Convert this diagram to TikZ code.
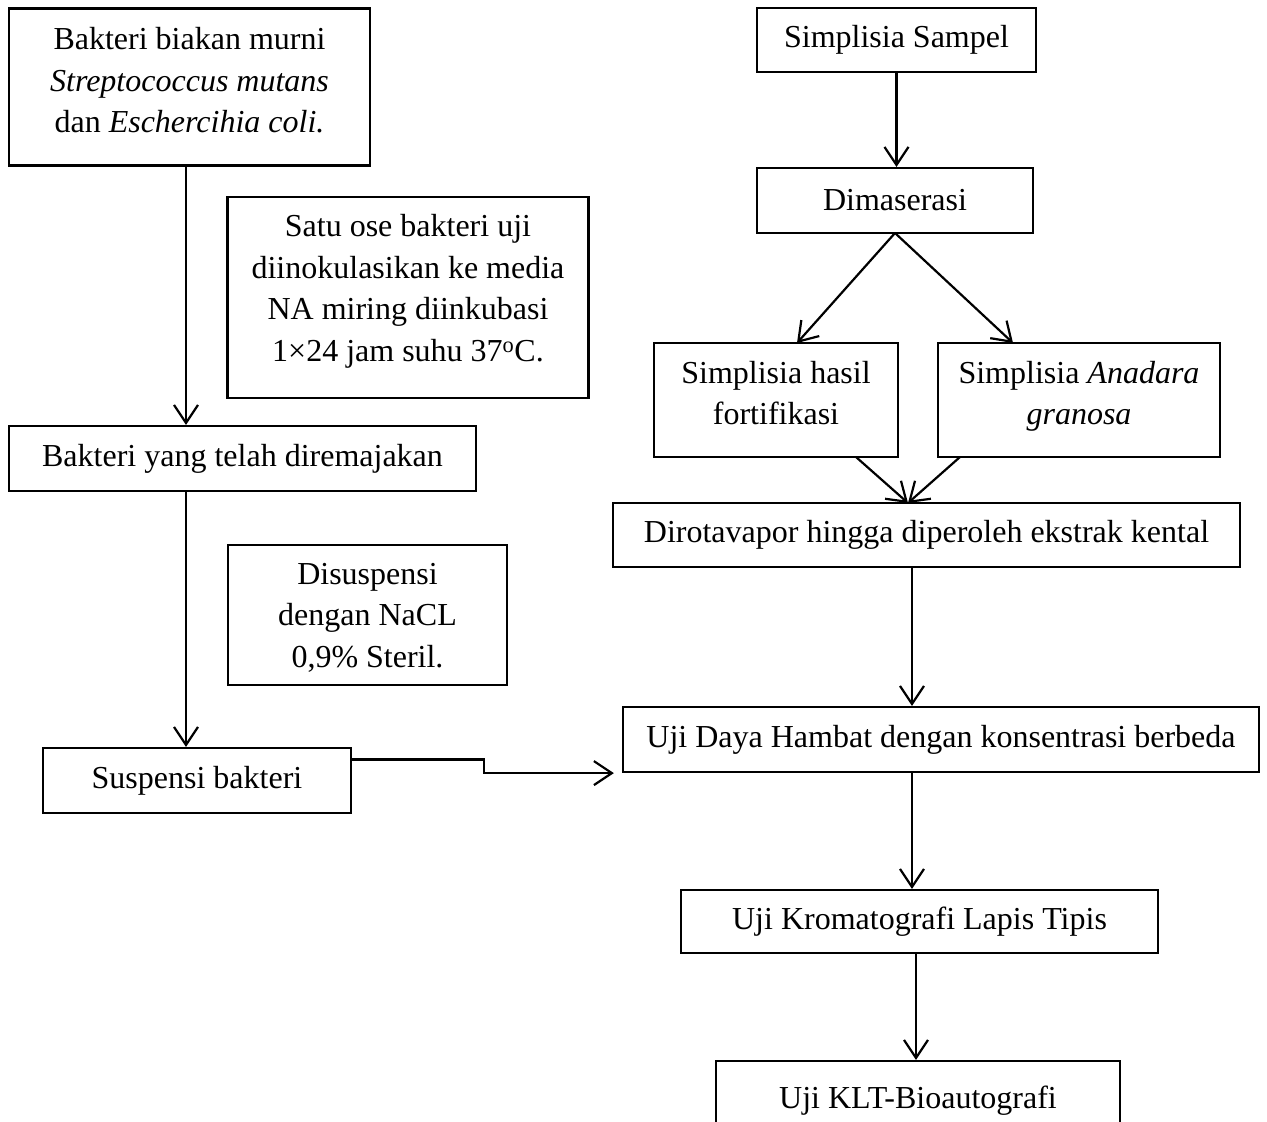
\documentclass[tikz,border=0pt]{standalone}
\usepackage{fontspec}
\setmainfont{Liberation Serif}
\usetikzlibrary{arrows.meta,calc}
\begin{document}
\begin{tikzpicture}[x=1pt,y=-1pt,
  box/.style={draw,line width=2.2pt,rectangle,inner sep=0pt,align=center,font=\fontsize{32}{41.5}\selectfont},
  txt/.style={inner sep=0pt,align=center,font=\fontsize{32}{41.5}\selectfont},
  arr/.style={line width=2.2pt,-{Straight Barb[length=18pt,width=24pt,line width=2.2pt]}}]
\useasboundingbox (0,0) rectangle (1267,1122);
\clip (0,0) rectangle (1267,1122);
% left column
\node[box,minimum width=361,minimum height=157] (A) at (189.5,87) {};
\node[txt] (At) at ([yshift=6.5pt]A.center) {Bakteri biakan murni\\\textit{Streptococcus mutans}\\dan \textit{Eschercihia coli.}};
\node[box,minimum width=361,minimum height=201] (B) at (408,297.5) {};
\node[txt] (Bt) at ([yshift=6pt]B.center) {Satu ose bakteri uji\\diinokulasikan ke media\\NA miring diinkubasi\\1×24 jam suhu 37\textsuperscript{o}C.};
\node[box,minimum width=467,minimum height=65] (C) at (242.5,458.5) {Bakteri yang telah diremajakan};
\node[box,minimum width=279,minimum height=140] (D) at (367.5,615) {};
\node[txt] (Dt) at ([yshift=-2.5pt]D.center) {Disuspensi\\dengan NaCL\\0,9\% Steril.};
\node[box,minimum width=308,minimum height=65] (E) at (197,780.5) {Suspensi bakteri};
% right column
\node[box,minimum width=279,minimum height=64] (F) at (896.5,40) {Simplisia Sampel};
\node[box,minimum width=276,minimum height=65] (G) at (895,200.5) {Dimaserasi};
\node[box,minimum width=244,minimum height=114] (H) at (776,400) {};
\node[txt] (Ht) at ([yshift=7pt]H.center) {Simplisia hasil\\fortifikasi};
\node[box,minimum width=282,minimum height=114] (I) at (1079,400) {};
\node[txt] (It) at ([yshift=3.5pt]I.center) {Simplisia \textit{Anadara}\\\textit{granosa}};
\node[box,minimum width=627,minimum height=64] (J) at (926.5,535) {Dirotavapor hingga diperoleh ekstrak kental};
\node[box,minimum width=636,minimum height=65] (K) at (941,739.5) {Uji Daya Hambat dengan konsentrasi berbeda};
\node[box,minimum width=477,minimum height=63] (L) at (919.5,921.5) {Uji Kromatografi Lapis Tipis};
\node[box,minimum width=404,minimum height=80] (M) at (918,1101) {Uji KLT-Bioautografi};
% connectors left
\coordinate (a1) at ([xshift=-3.5pt]A.south);
\draw[arr] (a1) -- (a1 |- C.north);
\coordinate (c1) at (186,0);
\draw[arr] (c1 |- C.south) -- (c1 |- E.north);
\coordinate (e1) at ([yshift=21pt]E.east);
\coordinate (e2) at (484,0);
\coordinate (k1) at ([xshift=-8pt]K.south west);
\draw[arr] (e1) -- (e1 -| e2) -- (e2 |- k1) -- (k1);
% connectors right
\coordinate (f1) at (F.south);
\draw[arr] (f1) -- (f1 |- G.north);
\coordinate (g1) at (895,233);
\coordinate (h1) at (797,343);
\coordinate (i1) at (1013,343);
\draw[arr] (g1) -- (h1);
\draw[arr] (g1) -- (i1);
\coordinate (j1) at (908,503);
\coordinate (h2) at (856,457);
\coordinate (i2) at (960,457);
\draw[arr] (h2) -- (j1);
\draw[arr] (i2) -- (j1);
\coordinate (jb) at (912,0);
\draw[arr] (jb |- J.south) -- (jb |- K.north);
\draw[arr] (jb |- K.south) -- (jb |- L.north);
\coordinate (lb) at (916,0);
\draw[arr] (lb |- L.south) -- (lb |- M.north);
\end{tikzpicture}
\end{document}
